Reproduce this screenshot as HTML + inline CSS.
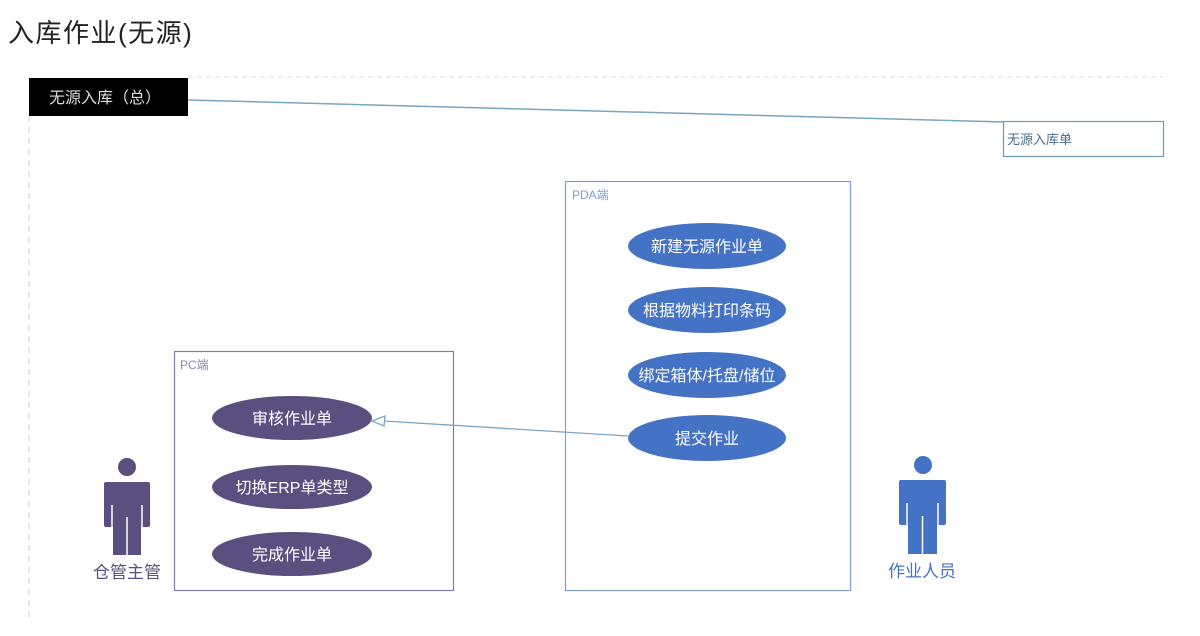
<!DOCTYPE html>
<html><head><meta charset="utf-8"><style>
body{margin:0;background:#fff;}
svg{display:block;font-family:"Liberation Sans","Noto Sans CJK SC",sans-serif;}
</style></head><body>
<svg width="1200" height="636" viewBox="0 0 1200 636" xmlns="http://www.w3.org/2000/svg">
<text x="8" y="42" font-size="26" fill="#222" letter-spacing="1.5">入库作业(无源)</text>
<line x1="188" y1="77" x2="1163" y2="77" stroke="#ddd" stroke-dasharray="5,4"/>
<line x1="29" y1="116" x2="29" y2="620" stroke="#ccc" stroke-dasharray="6,5"/>
<rect x="29" y="78" width="159" height="38" fill="#000"/>
<text x="105" y="103" font-size="16" fill="#ddd" text-anchor="middle">无源入库（总）</text>
<line x1="188" y1="100" x2="1004" y2="122" stroke="#7aa6c2" stroke-width="1.5"/>
<rect x="1003.5" y="121.5" width="160" height="35" fill="#fff" stroke="#6e9ab5" stroke-width="1.2"/>
<text x="1007" y="144" font-size="13" fill="#4a6e8a">无源入库单</text>

<rect x="565.5" y="181.5" width="285" height="409" fill="none" stroke="#7c9ed8" stroke-width="1.2"/>
<text x="572" y="199" font-size="12" fill="#7c9ed8">PDA端</text>
<g fill="#4472c4">
<ellipse cx="707" cy="246" rx="79" ry="23"/>
<ellipse cx="707" cy="310" rx="79" ry="23"/>
<ellipse cx="707" cy="375" rx="79" ry="23"/>
<ellipse cx="707" cy="438" rx="79" ry="23"/>
</g>
<g fill="#fff" font-size="16" text-anchor="middle">
<text x="707" y="252">新建无源作业单</text>
<text x="707" y="316">根据物料打印条码</text>
<text x="707" y="381">绑定箱体/托盘/储位</text>
<text x="707" y="444">提交作业</text>
</g>

<rect x="174.5" y="351.5" width="279" height="239" fill="none" stroke="#857ba0" stroke-width="1.2"/>
<text x="180" y="369" font-size="12" fill="#8f86aa">PC端</text>
<g fill="#5b4f80">
<ellipse cx="292" cy="418" rx="80" ry="22"/>
<ellipse cx="292" cy="487" rx="80" ry="22"/>
<ellipse cx="292" cy="554" rx="80" ry="22"/>
</g>
<g fill="#fff" font-size="16" text-anchor="middle">
<text x="292" y="424">审核作业单</text>
<text x="292" y="493">切换ERP单类型</text>
<text x="292" y="560">完成作业单</text>
</g>

<line x1="628" y1="436" x2="384" y2="421" stroke="#7aa6c8" stroke-width="1.3"/>
<polygon points="372,421 385,416 384,426" fill="#fff" stroke="#7aa6c8" stroke-width="1.3"/>

<g fill="#5b4f80">
<circle cx="127" cy="467" r="9"/>
<rect x="104" y="482" width="46" height="45" rx="2"/>
<rect x="113" y="500" width="28" height="55"/>
</g>
<g stroke="#fff" stroke-width="1.5"><line x1="112" y1="505" x2="112" y2="527"/><line x1="142" y1="505" x2="142" y2="527"/><line x1="127" y1="517" x2="127" y2="556"/></g>
<text x="127" y="578" font-size="17" fill="#5b4f80" text-anchor="middle">仓管主管</text>

<g fill="#4472c4">
<circle cx="923" cy="465" r="9"/>
<rect x="899" y="480" width="47" height="45" rx="2"/>
<rect x="908" y="498" width="29" height="56"/>
</g>
<g stroke="#fff" stroke-width="1.5"><line x1="907" y1="503" x2="907" y2="525"/><line x1="938" y1="503" x2="938" y2="525"/><line x1="922.5" y1="516" x2="922.5" y2="555"/></g>
<text x="922" y="577" font-size="17" fill="#4472c4" text-anchor="middle">作业人员</text>
</svg>
</body></html>
